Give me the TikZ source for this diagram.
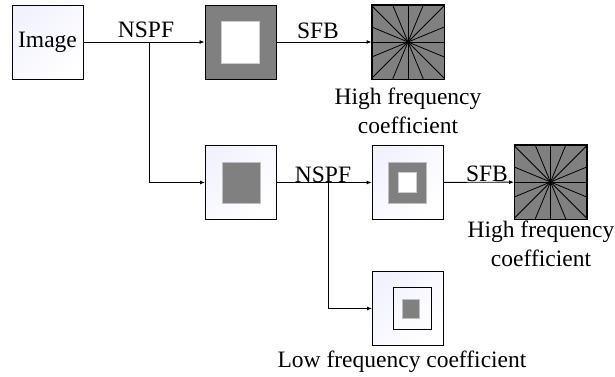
\documentclass[tikz,border=0pt]{standalone}
\usepackage{fontspec}
\setmainfont{Liberation Serif}
\usetikzlibrary{arrows.meta}

\tikzset{
    sub/.style={draw, line width=0.9pt, inner sep=0pt, minimum width=71pt, minimum height=74pt,
        top color=blue!5!white, bottom color=white, shading angle=45},
    band/.style={draw, line width=0.9pt, inner sep=0pt, minimum width=71pt, minimum height=74pt, fill=black!50},
    blk/.style={inner sep=0pt, fill=black!50, draw=black!25},
    hole/.style={inner sep=0pt, fill=white, draw=black!20},
    lbl/.style={inner sep=0pt, align=center, font=\fontsize{23.5}{29}\selectfont},
    arr/.style={-{Latex[length=5pt,width=4pt]}, line width=0.9pt},
}

\begin{document}
\begin{tikzpicture}[x=1pt, y=-1pt]
    \useasboundingbox (0,0) rectangle (615,376);

    % input image
    \node[sub] (img) at (47.5,42) {};
    \node[lbl] at (img.center) {Image};

    % first level: high-pass band
    \node[band] (hp1) at (240.5,42) {};
    \node[hole, minimum width=38pt, minimum height=42pt] at (hp1.center) {};

    % first level: low-pass band
    \node[sub] (lp1) at (241,182.5) {};
    \node[blk, minimum width=38pt, minimum height=41pt] at (lp1.center) {};

    % second level: high-pass band
    \node[sub] (hp2) at (407.5,182.5) {};
    \node[blk, minimum width=38pt, minimum height=41pt] (hp2r) at (hp2.center) {};
    \node[hole, minimum width=18pt, minimum height=20pt] at (hp2r.center) {};

    % second level: low-pass band
    \node[sub] (lp2) at (408,308.5) {};
    \node[draw, line width=0.9pt, inner sep=0pt, minimum width=38pt, minimum height=42pt] (lp2r) at (412,308) {};
    \node[blk, minimum width=17pt, minimum height=19pt] at (410.5,308.5) {};

    % directional filter banks
    \foreach \n/\p in {dir1/{(408,42)}, dir2/{(550.5,182)}} {
        \node[band, minimum width=72pt] (\n) at \p {};
        \begin{scope}
            \clip (\n.south west) rectangle (\n.north east);
            \foreach \a in {0,22.5,...,170}
                \draw[line width=0.8pt] (\n.center) ++(\a:70) -- ++(\a+180:140);
        \end{scope}
        \draw[line width=0.9pt] (\n.south west) rectangle (\n.north east);
        \fill (\n.center) circle (1.8pt);
    }

    % branch points
    \coordinate (s1) at (149,42);
    \coordinate (s2) at (328,182.5);

    \draw[arr] (img) -- (hp1);
    \draw[arr] (s1) |- (lp1);
    \draw[arr] (hp1) -- (dir1);
    \draw[arr] (lp1) -- (hp2);
    \draw[arr] (s2) |- (lp2);
    \draw[arr] (hp2) -- (dir2);

    \node[lbl, anchor=base] (t1) at (146,37) {NSPF};
    \node[lbl, anchor=base] (t2) at (318,38) {SFB};
    \node[lbl, anchor=base] (t3) at (323,182) {NSPF};
    \node[lbl, anchor=base] (t4) at (487,181) {SFB};

    \node[lbl, anchor=base] (c1) at (408,133) {High frequency\\coefficient};
    \node[lbl, anchor=base] (c2) at (541,266) {High frequency\\coefficient};
    \node[lbl, anchor=base] (c3) at (402,367) {Low frequency coefficient};
\end{tikzpicture}
\end{document}
